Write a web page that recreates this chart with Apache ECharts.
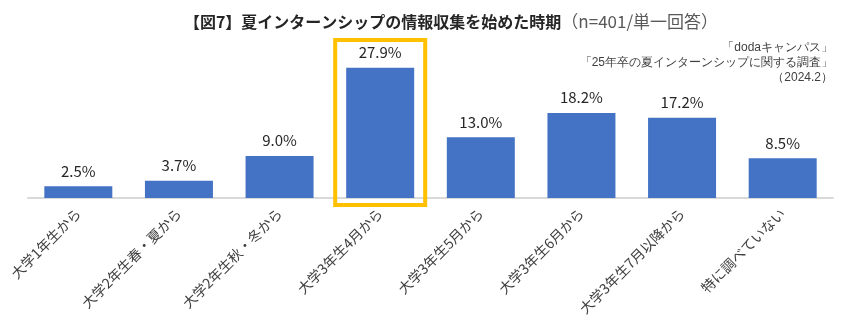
<!DOCTYPE html>
<html><head><meta charset="utf-8">
<script src="https://cdn.jsdelivr.net/npm/echarts@6/dist/echarts.min.js"></script>
<style>html,body{margin:0;padding:0;background:#fff}#c{width:850px;height:330px}</style>
</head><body><div id="c"></div>
<script>
const categories = ['大学1年生から','大学2年生春・夏から','大学2年生秋・冬から','大学3年生4月から','大学3年生5月から','大学3年生6月から','大学3年生7月以降から','特に調べていない'];
const values = [2.5, 3.7, 9.0, 27.9, 13.0, 18.2, 17.2, 8.5];
const sourceLines = ['「dodaキャンパス」', '「25年卒の夏インターンシップに関する調査」', '（2024.2）'];
const highlightIndex = 3;
const FONT = '"Noto Sans CJK JP", "Noto Sans", sans-serif';
const chart = echarts.init(document.getElementById('c'));
chart.setOption({
  animation: false,
  title: {
    text: '{b|【図7】夏インターンシップの情報収集を始めた時期}{n|（n=401/単一回答）}',
    left: 446, top: 8, textAlign: 'center',
    textStyle: { rich: {
      b: { fontFamily: FONT, fontSize: 16, fontWeight: 'bold', color: '#262626' },
      n: { fontFamily: FONT, fontSize: 17, fontWeight: 'normal', color: '#595959' }
    } }
  },
  graphic: sourceLines.map((t, i) => ({
    type: 'text', x: 833, y: 42 + i * 15,
    style: { text: t, align: 'right', verticalAlign: 'top', fill: '#404040', font: '12px ' + FONT }
  })),
  grid: { left: 28, right: 17, top: 58, bottom: 132 },
  xAxis: {
    type: 'category', data: categories,
    axisLine: { lineStyle: { color: '#d9d9d9', width: 2 } },
    axisTick: { show: false },
    axisLabel: { rotate: 45, interval: 0, fontFamily: FONT, fontSize: 14, color: '#404040', margin: 13 }
  },
  yAxis: { type: 'value', min: 0, max: 30, show: false, splitLine: { show: false } },
  series: [{
    type: 'bar', data: values, barWidth: 68,
    itemStyle: { color: '#4472c4' },
    label: { show: true, position: 'top', distance: 8, formatter: p => p.value.toFixed(1) + '%', fontFamily: FONT, fontSize: 15, color: '#262626' }
  }]
});
const cx = chart.convertToPixel({xAxisIndex: 0}, highlightIndex);
chart.setOption({ graphic: sourceLines.map(() => ({})).concat([{
  type: 'rect', shape: { x: cx - 45, y: 40, width: 90, height: 165 },
  style: { fill: 'none', stroke: '#ffc000', lineWidth: 4 }, z: 100
}]) });
</script></body></html>
